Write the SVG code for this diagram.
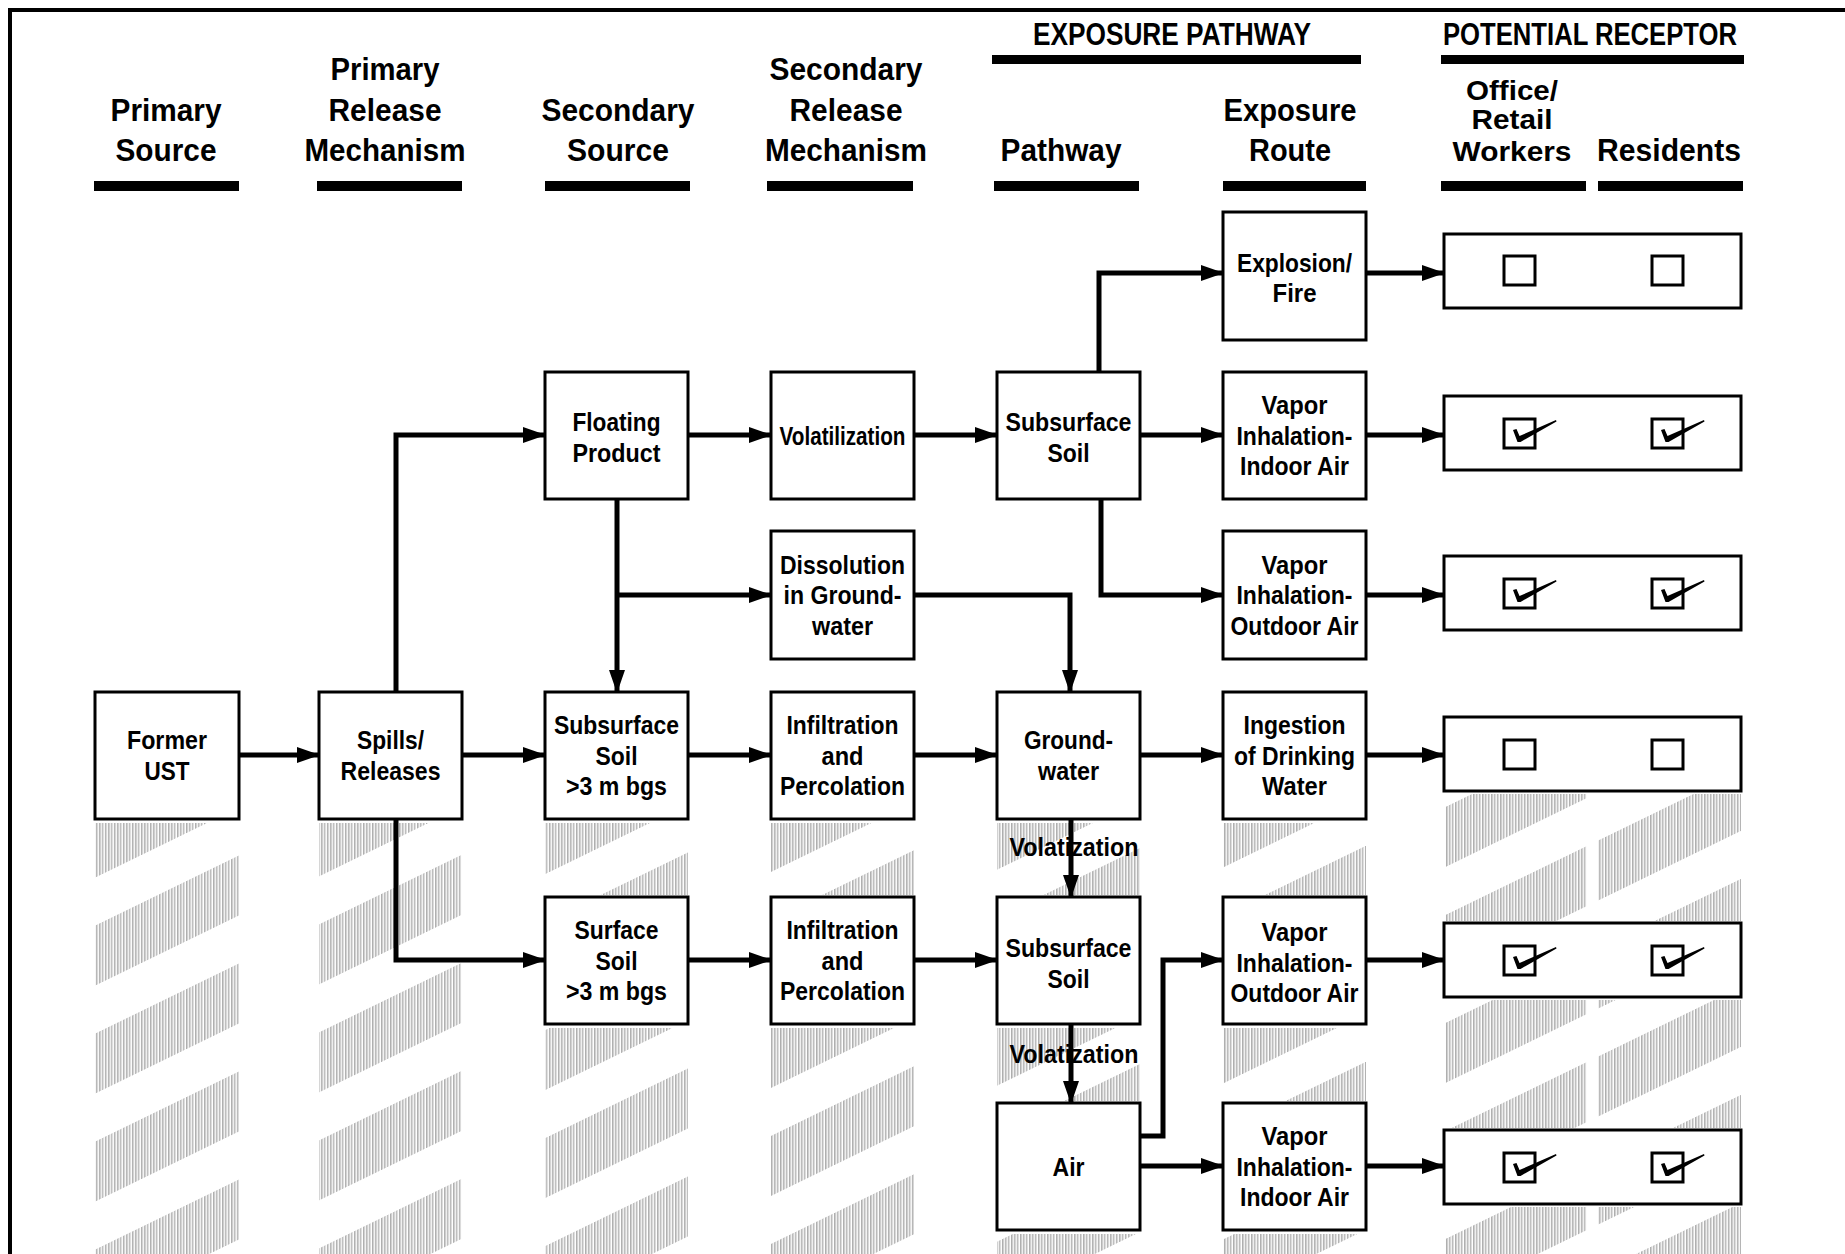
<svg xmlns="http://www.w3.org/2000/svg" width="1845" height="1254" viewBox="0 0 1845 1254">
<style>
.h{font-family:"Liberation Sans",Arial,sans-serif;font-weight:bold;font-size:32px;text-anchor:middle;fill:#000}
.hs{font-family:"Liberation Sans",Arial,sans-serif;font-weight:bold;font-size:28px;text-anchor:middle;fill:#000}
.t{font-family:"Liberation Sans",Arial,sans-serif;font-weight:bold;font-size:25px;text-anchor:middle;fill:#000}
.box{fill:#fff;stroke:#000;stroke-width:3}
.bar{fill:#000}
.cn{fill:none;stroke:#000;stroke-width:5;stroke-linejoin:miter}
.ar{marker-end:url(#ah)}
.chk{fill:#fff;stroke:#000;stroke-width:3}
</style>
<defs>
<marker id="ah" markerUnits="userSpaceOnUse" markerWidth="24" markerHeight="16" refX="22" refY="8" orient="auto">
<path d="M0,0 L23,8 L0,16 z" fill="#000"/>
</marker>
<pattern id="vl" patternUnits="userSpaceOnUse" width="3" height="4">
<rect width="1.5" height="4" fill="#8c8c8c"/>
</pattern>
<pattern id="band" patternUnits="userSpaceOnUse" width="1845" height="108" patternTransform="skewY(-26)">
<rect x="0" y="0" width="1845" height="60" fill="url(#vl)"/>
</pattern>
<path id="tick" d="M9,11 L12.5,10 L15.5,17 L52,1 L52.5,2.5 L16.5,23 L13.5,23 Z" fill="#000"/>
</defs>
<rect x="0" y="0" width="1845" height="1254" fill="#fff"/>
<g id="texture" fill="url(#band)" opacity="0.7">
<rect x="95" y="823" width="144" height="431"/>
<rect x="319" y="823" width="143" height="431"/>
<rect x="545" y="823" width="143" height="72"/>
<rect x="545" y="1028" width="143" height="226"/>
<rect x="771" y="823" width="143" height="72"/>
<rect x="771" y="1028" width="143" height="226"/>
<rect x="997" y="823" width="143" height="72"/>
<rect x="997" y="1028" width="143" height="73"/>
<rect x="997" y="1234" width="143" height="20"/>
<rect x="1223" y="823" width="143" height="72"/>
<rect x="1223" y="1028" width="143" height="73"/>
<rect x="1223" y="1234" width="143" height="20"/>
<rect x="1445" y="794" width="142" height="127"/>
<rect x="1598" y="794" width="143" height="127"/>
<rect x="1445" y="1000" width="142" height="128"/>
<rect x="1598" y="1000" width="143" height="128"/>
<rect x="1445" y="1207" width="142" height="47"/>
<rect x="1598" y="1207" width="143" height="47"/>
</g>
<g id="frame" fill="#000">
<rect x="8" y="8" width="1837" height="4"/>
<rect x="8" y="8" width="4" height="1246"/>
</g>
<g id="headers">
<text class="h" x="1172" y="45" textLength="278" lengthAdjust="spacingAndGlyphs">EXPOSURE PATHWAY</text>
<rect class="bar" x="992" y="55" width="369" height="9"/>
<text class="h" x="1590" y="45" textLength="294" lengthAdjust="spacingAndGlyphs">POTENTIAL RECEPTOR</text>
<rect class="bar" x="1441" y="55" width="303" height="9"/>
<text class="h" x="166" y="121" textLength="111" lengthAdjust="spacingAndGlyphs">Primary</text>
<text class="h" x="166" y="161" textLength="101" lengthAdjust="spacingAndGlyphs">Source</text>
<text class="h" x="385" y="80" textLength="109" lengthAdjust="spacingAndGlyphs">Primary</text>
<text class="h" x="385" y="121" textLength="113" lengthAdjust="spacingAndGlyphs">Release</text>
<text class="h" x="385" y="161" textLength="161" lengthAdjust="spacingAndGlyphs">Mechanism</text>
<text class="h" x="618" y="121" textLength="153" lengthAdjust="spacingAndGlyphs">Secondary</text>
<text class="h" x="618" y="161" textLength="102" lengthAdjust="spacingAndGlyphs">Source</text>
<text class="h" x="846" y="80" textLength="153" lengthAdjust="spacingAndGlyphs">Secondary</text>
<text class="h" x="846" y="121" textLength="113" lengthAdjust="spacingAndGlyphs">Release</text>
<text class="h" x="846" y="161" textLength="162" lengthAdjust="spacingAndGlyphs">Mechanism</text>
<text class="h" x="1061" y="161" textLength="121" lengthAdjust="spacingAndGlyphs">Pathway</text>
<text class="h" x="1290" y="121" textLength="133" lengthAdjust="spacingAndGlyphs">Exposure</text>
<text class="h" x="1290" y="161" textLength="82" lengthAdjust="spacingAndGlyphs">Route</text>
<text class="hs" x="1512" y="100" textLength="92" lengthAdjust="spacingAndGlyphs">Office/</text>
<text class="hs" x="1512" y="129" textLength="81" lengthAdjust="spacingAndGlyphs">Retail</text>
<text class="hs" x="1512" y="161" textLength="119" lengthAdjust="spacingAndGlyphs">Workers</text>
<text class="h" x="1669" y="161" textLength="144" lengthAdjust="spacingAndGlyphs">Residents</text>
<rect class="bar" x="94" y="181" width="145" height="10"/>
<rect class="bar" x="317" y="181" width="145" height="10"/>
<rect class="bar" x="545" y="181" width="145" height="10"/>
<rect class="bar" x="767" y="181" width="146" height="10"/>
<rect class="bar" x="994" y="181" width="145" height="10"/>
<rect class="bar" x="1223" y="181" width="143" height="10"/>
<rect class="bar" x="1441" y="181" width="145" height="10"/>
<rect class="bar" x="1598" y="181" width="145" height="10"/>
</g>
<g id="connectors">
<path class="cn ar" d="M239,755 H319"/>
<path class="cn ar" d="M462,755 H545"/>
<path class="cn ar" d="M396,692 V435 H545"/>
<path class="cn ar" d="M396,819 V960 H545"/>
<path class="cn ar" d="M688,435 H771"/>
<path class="cn ar" d="M914,435 H997"/>
<path class="cn ar" d="M617,499 V692"/>
<path class="cn ar" d="M617,595 H771"/>
<path class="cn ar" d="M914,595 H1070 V692"/>
<path class="cn ar" d="M1099,372 V273 H1223"/>
<path class="cn ar" d="M1140,435 H1223"/>
<path class="cn ar" d="M1101,499 V595 H1223"/>
<path class="cn ar" d="M1366,273 H1444"/>
<path class="cn ar" d="M1366,435 H1444"/>
<path class="cn ar" d="M1366,595 H1444"/>
<path class="cn ar" d="M688,755 H771"/>
<path class="cn ar" d="M914,755 H997"/>
<path class="cn ar" d="M1140,755 H1223"/>
<path class="cn ar" d="M1366,755 H1444"/>
<path class="cn ar" d="M1071,819 V897"/>
<path class="cn ar" d="M688,960 H771"/>
<path class="cn ar" d="M914,960 H997"/>
<path class="cn ar" d="M1071,1024 V1103"/>
<path class="cn ar" d="M1140,1136 H1163 V960 H1223"/>
<path class="cn ar" d="M1140,1166 H1223"/>
<path class="cn ar" d="M1366,960 H1444"/>
<path class="cn ar" d="M1366,1166 H1444"/>
<text class="t" x="1074" y="856" textLength="129" lengthAdjust="spacingAndGlyphs">Volatization</text>
<text class="t" x="1074" y="1063" textLength="129" lengthAdjust="spacingAndGlyphs">Volatization</text>
</g>
<g id="former-ust">
<rect class="box" x="95" y="692" width="144" height="127"/>
<text class="t" x="167" y="749" textLength="80" lengthAdjust="spacingAndGlyphs">Former</text>
<text class="t" x="167" y="780" textLength="45" lengthAdjust="spacingAndGlyphs">UST</text>
</g>
<g id="spills-releases">
<rect class="box" x="319" y="692" width="143" height="127"/>
<text class="t" x="390.5" y="749" textLength="67" lengthAdjust="spacingAndGlyphs">Spills/</text>
<text class="t" x="390.5" y="780" textLength="100" lengthAdjust="spacingAndGlyphs">Releases</text>
</g>
<g id="floating-product">
<rect class="box" x="545" y="372" width="143" height="127"/>
<text class="t" x="616.5" y="431" textLength="88" lengthAdjust="spacingAndGlyphs">Floating</text>
<text class="t" x="616.5" y="462" textLength="88" lengthAdjust="spacingAndGlyphs">Product</text>
</g>
<g id="subsurface-soil-3m">
<rect class="box" x="545" y="692" width="143" height="127"/>
<text class="t" x="616.5" y="734" textLength="125" lengthAdjust="spacingAndGlyphs">Subsurface</text>
<text class="t" x="616.5" y="764.5" textLength="42" lengthAdjust="spacingAndGlyphs">Soil</text>
<text class="t" x="616.5" y="795" textLength="101" lengthAdjust="spacingAndGlyphs">&gt;3 m bgs</text>
</g>
<g id="surface-soil-3m">
<rect class="box" x="545" y="897" width="143" height="127"/>
<text class="t" x="616.5" y="939" textLength="84" lengthAdjust="spacingAndGlyphs">Surface</text>
<text class="t" x="616.5" y="969.5" textLength="42" lengthAdjust="spacingAndGlyphs">Soil</text>
<text class="t" x="616.5" y="1000" textLength="101" lengthAdjust="spacingAndGlyphs">&gt;3 m bgs</text>
</g>
<g id="volatilization">
<rect class="box" x="771" y="372" width="143" height="127"/>
<text class="t" x="842.5" y="444.5" textLength="126" lengthAdjust="spacingAndGlyphs">Volatilization</text>
</g>
<g id="dissolution">
<rect class="box" x="771" y="531" width="143" height="128"/>
<text class="t" x="842.5" y="573.5" textLength="125" lengthAdjust="spacingAndGlyphs">Dissolution</text>
<text class="t" x="842.5" y="604" textLength="118" lengthAdjust="spacingAndGlyphs">in Ground-</text>
<text class="t" x="842.5" y="634.5" textLength="61" lengthAdjust="spacingAndGlyphs">water</text>
</g>
<g id="infiltration-1">
<rect class="box" x="771" y="692" width="143" height="127"/>
<text class="t" x="842.5" y="734" textLength="112" lengthAdjust="spacingAndGlyphs">Infiltration</text>
<text class="t" x="842.5" y="764.5" textLength="42" lengthAdjust="spacingAndGlyphs">and</text>
<text class="t" x="842.5" y="795" textLength="125" lengthAdjust="spacingAndGlyphs">Percolation</text>
</g>
<g id="infiltration-2">
<rect class="box" x="771" y="897" width="143" height="127"/>
<text class="t" x="842.5" y="939" textLength="112" lengthAdjust="spacingAndGlyphs">Infiltration</text>
<text class="t" x="842.5" y="969.5" textLength="42" lengthAdjust="spacingAndGlyphs">and</text>
<text class="t" x="842.5" y="1000" textLength="125" lengthAdjust="spacingAndGlyphs">Percolation</text>
</g>
<g id="subsurface-soil-a">
<rect class="box" x="997" y="372" width="143" height="127"/>
<text class="t" x="1068.5" y="431" textLength="126" lengthAdjust="spacingAndGlyphs">Subsurface</text>
<text class="t" x="1068.5" y="462" textLength="42" lengthAdjust="spacingAndGlyphs">Soil</text>
</g>
<g id="groundwater">
<rect class="box" x="997" y="692" width="143" height="127"/>
<text class="t" x="1068.5" y="749" textLength="89" lengthAdjust="spacingAndGlyphs">Ground-</text>
<text class="t" x="1068.5" y="780" textLength="61" lengthAdjust="spacingAndGlyphs">water</text>
</g>
<g id="subsurface-soil-b">
<rect class="box" x="997" y="897" width="143" height="127"/>
<text class="t" x="1068.5" y="957" textLength="126" lengthAdjust="spacingAndGlyphs">Subsurface</text>
<text class="t" x="1068.5" y="988" textLength="42" lengthAdjust="spacingAndGlyphs">Soil</text>
</g>
<g id="air">
<rect class="box" x="997" y="1103" width="143" height="127"/>
<text class="t" x="1068.5" y="1175.5" textLength="32" lengthAdjust="spacingAndGlyphs">Air</text>
</g>
<g id="explosion-fire">
<rect class="box" x="1223" y="212" width="143" height="128"/>
<text class="t" x="1294.5" y="272" textLength="115" lengthAdjust="spacingAndGlyphs">Explosion/</text>
<text class="t" x="1294.5" y="302" textLength="44" lengthAdjust="spacingAndGlyphs">Fire</text>
</g>
<g id="vapor-indoor-1">
<rect class="box" x="1223" y="372" width="143" height="127"/>
<text class="t" x="1294.5" y="414" textLength="66" lengthAdjust="spacingAndGlyphs">Vapor</text>
<text class="t" x="1294.5" y="444.5" textLength="116" lengthAdjust="spacingAndGlyphs">Inhalation-</text>
<text class="t" x="1294.5" y="475" textLength="109" lengthAdjust="spacingAndGlyphs">Indoor Air</text>
</g>
<g id="vapor-outdoor-1">
<rect class="box" x="1223" y="531" width="143" height="128"/>
<text class="t" x="1294.5" y="573.5" textLength="66" lengthAdjust="spacingAndGlyphs">Vapor</text>
<text class="t" x="1294.5" y="604" textLength="116" lengthAdjust="spacingAndGlyphs">Inhalation-</text>
<text class="t" x="1294.5" y="634.5" textLength="128" lengthAdjust="spacingAndGlyphs">Outdoor Air</text>
</g>
<g id="ingestion">
<rect class="box" x="1223" y="692" width="143" height="127"/>
<text class="t" x="1294.5" y="734" textLength="102" lengthAdjust="spacingAndGlyphs">Ingestion</text>
<text class="t" x="1294.5" y="764.5" textLength="121" lengthAdjust="spacingAndGlyphs">of Drinking</text>
<text class="t" x="1294.5" y="795" textLength="65" lengthAdjust="spacingAndGlyphs">Water</text>
</g>
<g id="vapor-outdoor-2">
<rect class="box" x="1223" y="897" width="143" height="127"/>
<text class="t" x="1294.5" y="941" textLength="66" lengthAdjust="spacingAndGlyphs">Vapor</text>
<text class="t" x="1294.5" y="971.5" textLength="116" lengthAdjust="spacingAndGlyphs">Inhalation-</text>
<text class="t" x="1294.5" y="1002" textLength="128" lengthAdjust="spacingAndGlyphs">Outdoor Air</text>
</g>
<g id="vapor-indoor-2">
<rect class="box" x="1223" y="1103" width="143" height="127"/>
<text class="t" x="1294.5" y="1145" textLength="66" lengthAdjust="spacingAndGlyphs">Vapor</text>
<text class="t" x="1294.5" y="1175.5" textLength="116" lengthAdjust="spacingAndGlyphs">Inhalation-</text>
<text class="t" x="1294.5" y="1206" textLength="109" lengthAdjust="spacingAndGlyphs">Indoor Air</text>
</g>
<g id="receptor-1">
<rect class="box" x="1444" y="234" width="297" height="74"/>
<rect class="chk" x="1504" y="256" width="31" height="29"/>
<rect class="chk" x="1652" y="256" width="31" height="29"/>
</g>
<g id="receptor-2">
<rect class="box" x="1444" y="396" width="297" height="74"/>
<rect class="chk" x="1504" y="419" width="31" height="29"/>
<rect class="chk" x="1652" y="419" width="31" height="29"/>
<use href="#tick" x="1504" y="419"/>
<use href="#tick" x="1652" y="419"/>
</g>
<g id="receptor-3">
<rect class="box" x="1444" y="556" width="297" height="74"/>
<rect class="chk" x="1504" y="579" width="31" height="29"/>
<rect class="chk" x="1652" y="579" width="31" height="29"/>
<use href="#tick" x="1504" y="579"/>
<use href="#tick" x="1652" y="579"/>
</g>
<g id="receptor-4">
<rect class="box" x="1444" y="717" width="297" height="74"/>
<rect class="chk" x="1504" y="740" width="31" height="29"/>
<rect class="chk" x="1652" y="740" width="31" height="29"/>
</g>
<g id="receptor-5">
<rect class="box" x="1444" y="923" width="297" height="74"/>
<rect class="chk" x="1504" y="946" width="31" height="29"/>
<rect class="chk" x="1652" y="946" width="31" height="29"/>
<use href="#tick" x="1504" y="946"/>
<use href="#tick" x="1652" y="946"/>
</g>
<g id="receptor-6">
<rect class="box" x="1444" y="1130" width="297" height="74"/>
<rect class="chk" x="1504" y="1153" width="31" height="29"/>
<rect class="chk" x="1652" y="1153" width="31" height="29"/>
<use href="#tick" x="1504" y="1153"/>
<use href="#tick" x="1652" y="1153"/>
</g>
</svg>
